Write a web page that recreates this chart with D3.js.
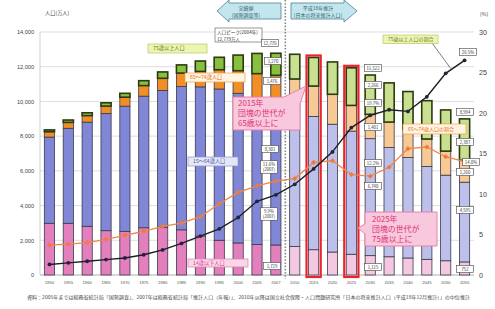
<!DOCTYPE html>
<html><head><meta charset="utf-8">
<script src="https://cdn.jsdelivr.net/npm/d3@7"></script>
<style>
html,body{margin:0;padding:0;background:#fff;}
svg{display:block;font-family:"Noto Sans CJK JP","Noto Sans",sans-serif;}
</style></head>
<body><svg id="c" width="495" height="309"></svg>
<script>
const years = ["1950","1955","1960","1965","1970","1975","1980","1985","1990","1995","2000","2005","2007","2010","2015","2020","2025","2030","2035","2040","2045","2050","2055"];
const age0_14  = [2979,2980,2807,2553,2515,2722,2751,2603,2249,2001,1847,1752,1729,1648,1457,1324,1195,1115,1051,980,904,821,752];
const age15_64 = [4966,5473,6000,6744,7212,7581,7883,8251,8590,8716,8622,8442,8301,8128,7681,7363,7096,6740,6292,5787,5350,4930,4595];
const age65_74 = [309,338,376,434,516,608,699,779,892,1109,1301,1407,1476,1517,1749,1725,1479,1401,1469,1645,1582,1386,1260];
const age75    = [106,138,163,190,224,284,366,471,597,717,900,1164,1270,1423,1645,1863,2167,2266,2256,2158,2207,2373,2387];
const ratio65_74 = [3.7,3.8,4.0,4.4,4.9,5.4,6.0,6.4,7.2,8.8,10.2,11.0,11.6,11.9,13.9,14.1,12.4,12.2,13.3,15.6,15.8,14.6,14.0];
const ratio75    = [1.3,1.5,1.7,1.9,2.1,2.5,3.1,3.9,4.8,5.7,7.1,9.1,9.9,11.2,13.1,15.2,18.2,19.7,20.4,20.2,22.0,24.9,26.5];
const leftTicks = [0,2000,4000,6000,8000,10000,12000,14000];
const rightTicks = [0,5,10,15,20,25,30];
const firstProjection = "2010";
const highlighted = ["2015","2025"];

const svg = d3.select("#c");
const x = d3.scaleBand().domain(years).range([40,474]).paddingInner(0.46).paddingOuter(0.23);
const y = d3.scaleLinear().domain([0,14000]).range([275,32]);
const yr = d3.scaleLinear().domain([0,30]).range([275,32]);
const fmt = d3.format(",");

// grid
svg.append("g").selectAll("line").data(leftTicks).join("line")
  .attr("x1",40).attr("x2",474).attr("y1",d=>y(d)).attr("y2",d=>y(d))
  .attr("stroke",d=>d===0?"#999":"#cfcfcf").attr("stroke-width",d=>d===0?0.8:0.7);
svg.append("line").attr("x1",40).attr("x2",40).attr("y1",32).attr("y2",275).attr("stroke","#bbb").attr("stroke-width",0.7);

// left axis
const la = svg.append("g").attr("transform","translate(38,0)")
  .call(d3.axisLeft(y).tickValues(leftTicks).tickFormat(fmt).tickSize(0).tickPadding(4));
la.select(".domain").remove();
la.selectAll("text").attr("font-size",5.6).attr("fill","#444").attr("font-family","Liberation Sans, Arial, sans-serif");
// right axis
const ra = svg.append("g").attr("transform","translate(476,0)")
  .call(d3.axisRight(yr).tickValues(rightTicks).tickSize(0).tickPadding(3));
ra.select(".domain").remove();
ra.selectAll("text").attr("font-size",7.2).attr("fill","#444").attr("font-family","Liberation Sans, Arial, sans-serif");
// x axis
const xa = svg.append("g").attr("transform","translate(0,278)")
  .call(d3.axisBottom(x).tickSize(0).tickPadding(3));
xa.select(".domain").remove();
xa.selectAll("text").attr("font-size",4.2).attr("fill","#555").attr("font-family","Liberation Sans, Arial, sans-serif");

svg.append("text").attr("x",45).attr("y",15).attr("font-size",5.2).attr("fill","#444").text("人口(万人)");
svg.append("text").attr("x",480).attr("y",16).attr("font-size",5.2).attr("fill","#444").text("(%)");

// stacked bars
const keys = ["a0","a15","a65","a75"];
const rows = years.map((yv,i)=>({year:yv,a0:age0_14[i],a15:age15_64[i],a65:age65_74[i],a75:age75[i]}));
const stack = d3.stack().keys(keys)(rows);
const projIdx = years.indexOf(firstProjection);
const colPast = {a0:"#e47fbd",a15:"#7f87d6",a65:"#f28e26",a75:"#86c03e"};
const colFut  = {a0:"#f4c8e0",a15:"#bcc0ea",a65:"#f7c994",a75:"#c8e08f"};
const bw = x.bandwidth();
stack.forEach(layer=>{
  svg.append("g").selectAll("rect").data(layer).join("rect")
    .attr("x",d=>x(d.data.year)).attr("width",bw)
    .attr("y",d=>y(d[1])).attr("height",d=>y(d[0])-y(d[1]))
    .attr("fill",(d,i)=> i<projIdx ? colPast[layer.key] : colFut[layer.key])
    .attr("stroke",layer.key==="a75"?"#2c3a12":"#3a3a4a")
    .attr("stroke-width",layer.key==="a75"?1.6:0.8);
});

// highlight frames
highlighted.forEach(yv=>{
  const i = years.indexOf(yv);
  const tot = age0_14[i]+age15_64[i]+age65_74[i]+age75[i];
  svg.append("rect").attr("x",x(yv)-2).attr("width",bw+4)
    .attr("y",y(tot)-2).attr("height",277-y(tot)+2)
    .attr("fill","none").attr("stroke","#e8242c").attr("stroke-width",2.2);
});

// divider
const divX = (x("2007")+bw + x(firstProjection))/2;
svg.append("line").attr("x1",divX).attr("x2",divX).attr("y1",0).attr("y2",279)
  .attr("stroke","#888").attr("stroke-width",1.6).attr("stroke-dasharray","1.6,1.6");

// lines
const cx = d=>x(d)+bw/2;
const lineO = d3.line().x((d,i)=>cx(years[i])).y(d=>yr(d));
svg.append("path").attr("d",lineO(ratio65_74)).attr("fill","none").attr("stroke","#f2844a").attr("stroke-width",1.3);
svg.append("g").selectAll("rect").data(ratio65_74).join("rect")
  .attr("x",(d,i)=>cx(years[i])-1.8).attr("y",d=>yr(d)-1.8).attr("width",3.6).attr("height",3.6)
  .attr("fill","#f07a3a").attr("transform",(d,i)=>`rotate(45,${cx(years[i])},${yr(d)})`);
svg.append("path").attr("d",lineO(ratio75)).attr("fill","none").attr("stroke","#1d1d24").attr("stroke-width",1.4);
svg.append("g").selectAll("circle").data(ratio75).join("circle")
  .attr("cx",(d,i)=>cx(years[i])).attr("cy",d=>yr(d)).attr("r",1.9).attr("fill","#23233a");

// arrows
function poly(pts,fill,stroke){svg.append("polygon").attr("points",pts.map(p=>p.join(",")).join(" ")).attr("fill",fill).attr("stroke",stroke).attr("stroke-width",0.8);}
poly([[217,11],[229,0],[229,3],[281,3],[281,19],[229,19],[229,22]],"#c3e6ee","#4d8190");
poly([[291,3],[344,3],[344,0],[357,11],[344,22],[344,19],[291,19]],"#c3e6ee","#4d8190");
function txt(xx,yy,s,size,fill,anchor){return svg.append("text").attr("x",xx).attr("y",yy).attr("font-size",size).attr("fill",fill).attr("text-anchor",anchor||"start").text(s);}
txt(246,9.5,"実績値",5,"#2f5f6c","middle");
txt(246,16.5,"(国勢調査等)",5,"#2f5f6c","middle");
txt(318,9.5,"平成18年推計",5,"#2f5f6c","middle");
txt(318,16.5,"(日本の将来推計人口)",5,"#2f5f6c","middle");

// peak box
svg.append("rect").attr("x",215).attr("y",28).attr("width",47).attr("height",14).attr("fill","#fff").attr("stroke","#555").attr("stroke-width",0.6);
txt(217,34,"人口ピーク(2004年)",4.6,"#333");
txt(217,40.5,"12,779万人",4.6,"#333");

// label boxes
function lbox(x0,y0,w,h,s,fill,stroke,tc,size){
  svg.append("rect").attr("x",x0).attr("y",y0).attr("width",w).attr("height",h).attr("fill",fill).attr("stroke",stroke).attr("stroke-width",0.7);
  txt(x0+5,y0+h/2+size*0.36,s,size,tc);
}
lbox(148,44,59,9,"75歳以上人口","#eef4b2","#b7c860","#6a7a1e",5.2);
lbox(185,73,60,9,"65～74歳人口","#fff4e4","#f0a040","#e0700e",5.2);
lbox(188,157,50,9,"15～64歳人口","#e4e7f6","#8c93cc","#4d56a8",5.2);
lbox(188,259,60,8,"14歳以下人口","#fad6e8","#e07ab0","#d23d8e",5.2);
svg.append("line").attr("x1",432).attr("y1",43).attr("x2",cx("2050")+5).attr("y2",yr(25.5)).attr("stroke","#444").attr("stroke-width",0.7);
lbox(383,35,55,8.5,"75歳以上人口の割合","#eef4b2","#b7c860","#6a7a1e",5);
lbox(403,124,63,10,"65～74歳人口の割合","#fff4e4","#f0a040","#e0700e",5);

// value boxes
function vbox(cxp,cyp,lines){
  const h = lines.length*5.5+1.5, w = 17;
  svg.append("rect").attr("x",cxp-w/2).attr("y",cyp-h/2).attr("width",w).attr("height",h).attr("fill","#fff").attr("stroke","#444").attr("stroke-width",0.6);
  lines.forEach((s,k)=>txt(cxp,cyp-h/2+5+k*5.5,s,4.3,"#333","middle"));
}
const vi = years.indexOf("2007"), vj = years.indexOf("2030"), vk = years.indexOf("2055");
const tot = i=>age0_14[i]+age15_64[i]+age65_74[i]+age75[i];
vbox(270,43,[fmt(tot(vi))]);
vbox(273,61,[fmt(age75[vi])]);
vbox(272,81,[fmt(age65_74[vi])]);
vbox(270,149,[fmt(age15_64[vi])]);
vbox(269,167,[ratio65_74[vi].toFixed(1)+"%","(2007)"]);
vbox(269,214,[ratio75[vi].toFixed(1)+"%","(2007)"]);
vbox(272,266,[fmt(age0_14[vi])]);

vbox(373,68,[fmt(tot(vj))]);
vbox(373,85,[fmt(age75[vj])]);
vbox(373,103,[ratio75[vj].toFixed(1)+"%"]);
vbox(373,127,[fmt(age65_74[vj])]);
vbox(373,163,[ratio65_74[vj].toFixed(1)+"%"]);
vbox(373,186,[fmt(age15_64[vj])]);
vbox(373,267,[fmt(age0_14[vj])]);

vbox(465,112,[fmt(tot(vk))]);
vbox(465,142,[fmt(age75[vk])]);
vbox(465,172,[fmt(age65_74[vk])]);
vbox(465,210,[fmt(age15_64[vk])]);
vbox(465,269,[fmt(age0_14[vk])]);
vbox(468,52,[ratio75[vk].toFixed(1)+"%"]);
vbox(471,162,[ratio65_74[vk].toFixed(1)+"%"]);

// callouts
svg.append("path").attr("d","M233,97 H284 L306,86 L300,104 V130 H233 Z").attr("fill","#f8c8dc").attr("stroke","#e878a8").attr("stroke-width",0.9);
txt(238,106,"2015年",7.9,"#e0307a");
txt(238,116,"団塊の世代が",7.9,"#e0307a");
txt(238,126,"65歳以上に",7.9,"#e0307a");
svg.append("path").attr("d","M365,212 H437 V246 H365 V234 L358,228 L365,224 Z").attr("fill","#f8c8dc").attr("stroke","#e878a8").attr("stroke-width",0.9);
txt(372,222,"2025年",7.9,"#e0307a");
txt(372,232,"団塊の世代が",7.9,"#e0307a");
txt(372,242,"75歳以上に",7.9,"#e0307a");

// source
txt(27,299,"資料：2005年までは総務省統計局「国勢調査」、2007年は総務省統計局「推計人口（年報）」、2010年以降は国立社会保障・人口問題研究所「日本の将来推計人口（平成18年12月推計）」の中位推計",4.6,"#444")
  .attr("textLength",443).attr("lengthAdjust","spacingAndGlyphs");
</script></body></html>
